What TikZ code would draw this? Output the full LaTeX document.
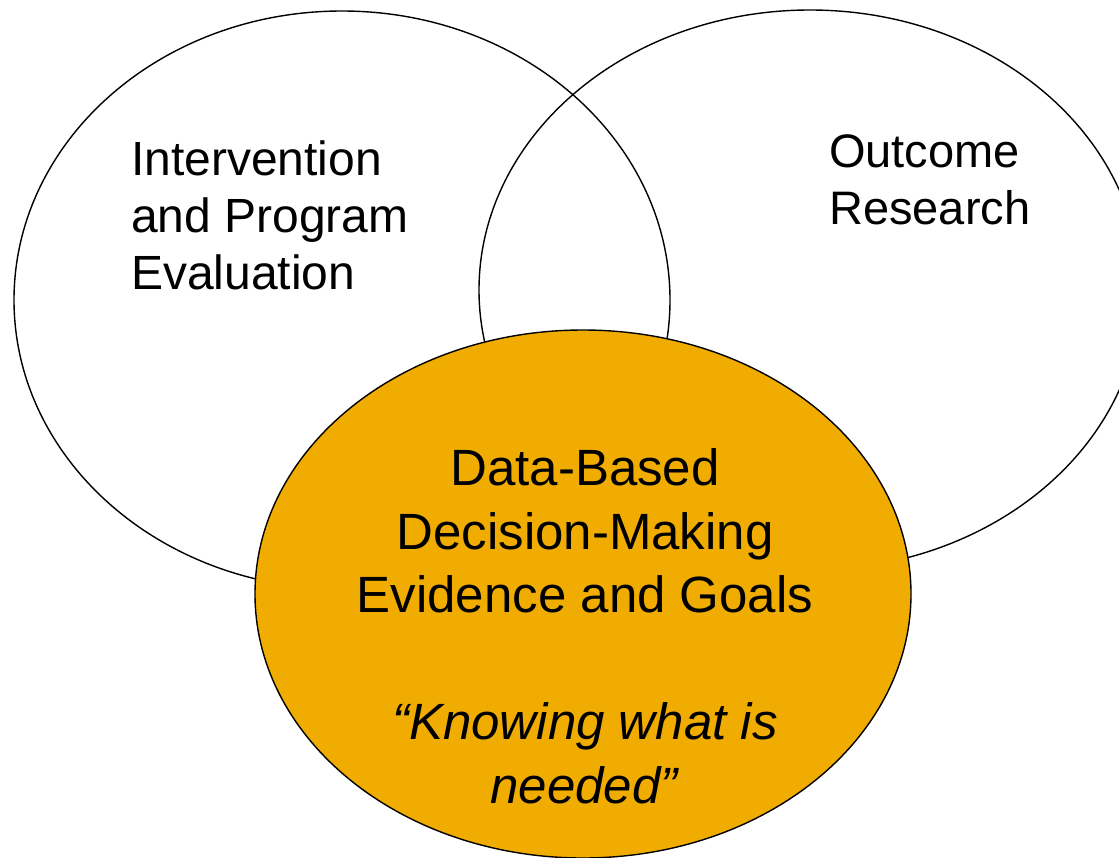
\documentclass[tikz,border=0pt]{standalone}
\usepackage{fontspec}
\setmainfont{Liberation Sans}
\usepackage{xcolor}
\definecolor{gold}{RGB}{240,172,0}

\begin{document}
\begin{tikzpicture}[x=1pt,y=-1pt]
	% fix the frame
	\useasboundingbox (0,0) rectangle (1119,857);
	\clip (0,0) rectangle (1119,857);

	% centres of the three ellipses
	\coordinate (cl) at (342,300);
	\coordinate (cr) at (810,290);
	\coordinate (cd) at (583,594);

	% draw the two back ellipses
	\draw[line width=1.4pt] (cl) ellipse [x radius=328pt, y radius=289pt];
	\draw[line width=1.4pt] (cr) ellipse [x radius=331pt, y radius=280pt];

	% draw the filled front ellipse
	\draw[line width=1.4pt, fill=gold] (cd) ellipse [x radius=328pt, y radius=264pt];

	% the texts (base is the last line)
	\node[anchor=base west, align=left, inner sep=0pt, font=\fontsize{48}{57}\selectfont] (ipe) at (131,289) {Intervention\\and Program\\Evaluation};
	\node[anchor=base west, align=left, inner sep=0pt, font=\fontsize{47}{57}\selectfont] (or) at (829,224) {Outcome\\Research};
	\node[anchor=base, align=center, inner sep=0pt, font=\fontsize{51}{63.5}\selectfont] (dbdm) at (585,803) {Data-Based\\Decision-Making\\Evidence and Goals\\[63.5pt]\textit{“Knowing what is}\\\textit{needed”}};
\end{tikzpicture}
\end{document}
